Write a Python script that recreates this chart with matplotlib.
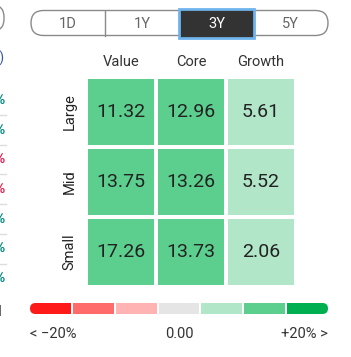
import numpy as np
import matplotlib.pyplot as plt
from matplotlib.colors import ListedColormap, BoundaryNorm
from matplotlib.patches import FancyBboxPatch, Rectangle

plt.rcParams['font.family'] = ['Roboto', 'DejaVu Sans']

# datos
columnas = ["Value", "Core", "Growth"]
filas = ["Large", "Mid", "Small"]
valores = np.array([[11.32, 12.96, 5.61],
                    [13.75, 13.26, 5.52],
                    [17.26, 13.73, 2.06]])
periodos = ["1D", "1Y", "3Y", "5Y"]
periodo_activo = "3Y"
escala_colores = ["#ff1a1a", "#ff6b6b", "#ffb3b3", "#e5e5e5", "#b2e6c8", "#5ccf8f", "#00b050"]
escala_limites = [-1000, -20, -10, -1, 1, 10, 20, 1000]
escala_etiquetas = ["< \u221220%", "0.00", "+20% >"]
# restos del panel vecino (cortado a la izquierda)
lado_signos = ["+", "+", "-", "-", "+", "+", "+"]

W, H = 351, 357
fig = plt.figure(figsize=(W / 100, H / 100), dpi=100)
bg = fig.add_axes([0, 0, 1, 1])
bg.set_xlim(0, W)
bg.set_ylim(H, 0)
bg.axis("off")

texto = "#333333"

# selector de periodo
bg.add_patch(FancyBboxPatch((31, 10.5), 297, 25, boxstyle="round,pad=0,rounding_size=12.5",
                            fc="white", ec="#8a8a8a", lw=1.0))
ancho_seg = 297 / len(periodos)
for i, p in enumerate(periodos):
    x0 = 31 + i * ancho_seg
    if i > 0:
        bg.plot([x0, x0], [10.5, 35.5], color="#8a8a8a", lw=1.0)
    if p == periodo_activo:
        bg.add_patch(Rectangle((x0 - 1, 8.5), ancho_seg + 1, 29, fc="#333333", ec="#6fb3ec", lw=2.0, zorder=3))
        bg.text(x0 + ancho_seg / 2, 24, p, ha="center", va="center", color="white", fontsize=10.5, zorder=4)
    else:
        bg.text(x0 + ancho_seg / 2, 24, p, ha="center", va="center", color="#666666", fontsize=10.5)

# panel izquierdo cortado
bg.add_patch(FancyBboxPatch((-40, 5), 44, 26, boxstyle="round,pad=0,rounding_size=12",
                            fc="white", ec="#8a8a8a", lw=1.0))
bg.text(4, 58, "%)", ha="right", va="center", color="#3355aa", fontsize=10)
for k, s in enumerate(lado_signos):
    y = 100 + k * 29.7
    col = "#00897b" if s == "+" else "#e8194a"
    bg.text(5, y, "%", ha="right", va="center", color=col, fontsize=10, fontweight="bold")
    if k < len(lado_signos) - 1:
        bg.plot([0, 6], [y + 15, y + 15], color="#dddddd", lw=1)
bg.text(2, 310, "|", ha="right", va="center", color="#555555", fontsize=9)

# mapa de estilo
cmap = ListedColormap(escala_colores)
norm = BoundaryNorm(escala_limites, cmap.N)
ax = fig.add_axes([86 / W, 1 - 287 / H, 210 / W, 210 / H])
ax.pcolormesh(valores, cmap=cmap, norm=norm, edgecolors="white", linewidth=1.5)
ax.set_xlim(0, 3)
ax.set_ylim(3, 0)
for sp in ax.spines.values():
    sp.set_visible(False)
ax.set_xticks(np.arange(3) + 0.5)
ax.set_xticklabels(columnas, fontsize=10.5, color=texto)
ax.xaxis.tick_top()
ax.set_yticks(np.arange(3) + 0.5)
ax.set_yticklabels(filas, fontsize=10.5, color="#222222", rotation=90, va="center")
ax.tick_params(length=0, pad=7)
ax.tick_params(axis="x", pad=6)
for i in range(3):
    for j in range(3):
        ax.text(j + 0.5, i + 0.5, f"{valores[i, j]:.2f}", ha="center", va="center",
                fontsize=14, color="#222222")

# leyenda de colores
x_ini, x_fin, y_bar, alto = 30, 328, 308.5, 11
gap = 2
seg = (x_fin - x_ini - gap * (len(escala_colores) - 1)) / len(escala_colores)
r = alto / 2
for i, c in enumerate(escala_colores):
    a = x_ini + i * (seg + gap)
    b = a + seg
    if i == 0:
        bg.add_patch(FancyBboxPatch((a, y_bar - r), seg, alto, boxstyle=f"round,pad=0,rounding_size={r}",
                                    fc=c, ec="none"))
        bg.add_patch(Rectangle((b - seg / 2, y_bar - r), seg / 2, alto, fc=c, ec="none"))
    elif i == len(escala_colores) - 1:
        bg.add_patch(FancyBboxPatch((a, y_bar - r), seg, alto, boxstyle=f"round,pad=0,rounding_size={r}",
                                    fc=c, ec="none"))
        bg.add_patch(Rectangle((a, y_bar - r), seg / 2, alto, fc=c, ec="none"))
    else:
        bg.add_patch(Rectangle((a, y_bar - r), seg, alto, fc=c, ec="none"))

bg.text(x_ini, 334, escala_etiquetas[0], ha="left", va="center", fontsize=10.5, color=texto)
bg.text((x_ini + x_fin) / 2, 334, escala_etiquetas[1], ha="center", va="center", fontsize=10.5, color=texto)
bg.text(x_fin, 334, escala_etiquetas[2], ha="right", va="center", fontsize=10.5, color=texto)

fig.savefig("out.png", dpi=100)
